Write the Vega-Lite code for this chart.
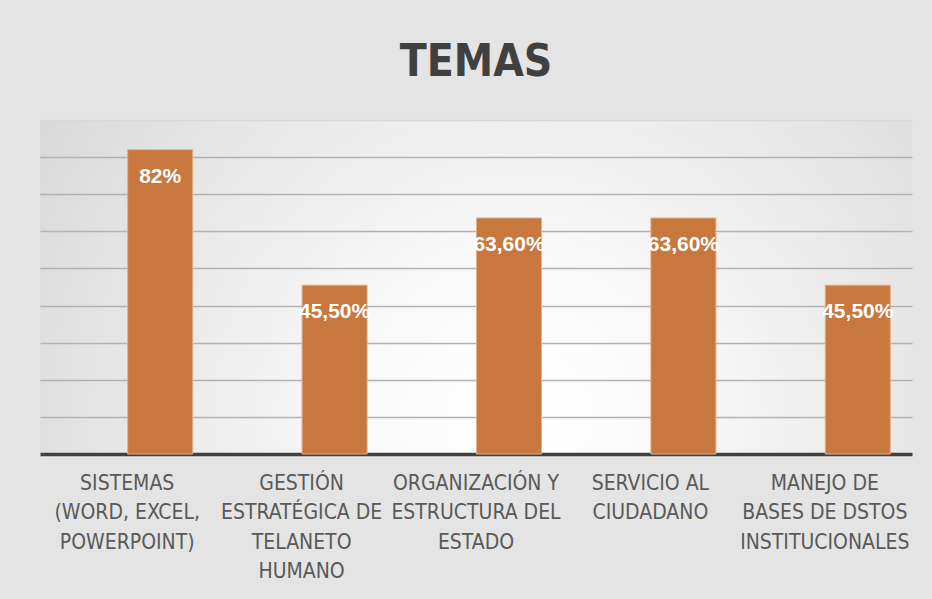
{
  "$schema": "https://vega.github.io/schema/vega-lite/v6.json",
  "width": 872,
  "height": 334,
  "autosize": {"type": "none"},
  "padding": {"left": 40, "top": 120, "right": 20, "bottom": 145},
  "background": "#E4E4E4",
  "title": {
    "text": "TEMAS",
    "font": "Liberation Sans Narrow, DejaVu Sans Condensed, sans-serif",
    "fontSize": 44,
    "fontWeight": "bold",
    "color": "#404040",
    "anchor": "middle",
    "baseline": "alphabetic",
    "offset": 0
  },
  "config": {
    "view": {
      "stroke": null,
      "fill": {
        "gradient": "radial",
        "x1": 0.55, "y1": 0.65, "r1": 0,
        "x2": 0.55, "y2": 0.65, "r2": 0.75,
        "stops": [
          {"offset": 0, "color": "#FFFFFF"},
          {"offset": 0.25, "color": "#F9F9F9"},
          {"offset": 1, "color": "#D2D2D2"}
        ]
      }
    }
  },
  "data": {
    "values": [
      {"tema": "SISTEMAS|(WORD, EXCEL,|POWERPOINT)", "porcentaje": 82, "etiqueta": "82%"},
      {"tema": "GESTIÓN|ESTRATÉGICA DE|TELANETO|HUMANO", "porcentaje": 45.5, "etiqueta": "45,50%"},
      {"tema": "ORGANIZACIÓN Y|ESTRUCTURA DEL|ESTADO", "porcentaje": 63.6, "etiqueta": "63,60%"},
      {"tema": "SERVICIO AL|CIUDADANO", "porcentaje": 63.6, "etiqueta": "63,60%"},
      {"tema": "MANEJO DE|BASES DE DSTOS|INSTITUCIONALES", "porcentaje": 45.5, "etiqueta": "45,50%"}
    ]
  },
  "encoding": {
    "x": {
      "field": "tema",
      "type": "nominal",
      "sort": null,
      "scale": {"paddingInner": 0.627, "paddingOuter": 0.3135},
      "axis": {
        "title": null,
        "labelAngle": 0,
        "labelExpr": "split(datum.label, '|')",
        "labelFont": "Liberation Sans Narrow, DejaVu Sans Condensed, sans-serif",
        "labelFontSize": 21,
        "labelColor": "#595959",
        "labelLineHeight": 29.5,
        "labelBaseline": "top",
        "labelPadding": 18,
        "labelLimit": 0,
        "ticks": false,
        "domainColor": "#404040",
        "domainWidth": 3.5,
        "grid": false
      }
    },
    "y": {
      "field": "porcentaje",
      "type": "quantitative",
      "scale": {"domain": [0, 90], "nice": false},
      "axis": {
        "title": null,
        "labels": false,
        "ticks": false,
        "domain": false,
        "values": [10, 20, 30, 40, 50, 60, 70, 80, 90],
        "gridColor": {"condition": {"test": "datum.value == 90", "value": "#D8D8D8"}, "value": "#B2B2B2"},
        "gridWidth": 1.5
      }
    }
  },
  "layer": [
    {
      "mark": {
        "type": "bar",
        "color": "#C8783F",
        "stroke": "#E6AF8A",
        "strokeWidth": 1,
        "xOffset": 33
      }
    },
    {
      "mark": {
        "type": "text",
        "color": "#FFFFFF",
        "font": "Liberation Sans, Arial, sans-serif",
        "fontSize": 21,
        "fontWeight": "bold",
        "baseline": "top",
        "align": "center",
        "dy": 16,
        "xOffset": 33
      },
      "encoding": {
        "text": {"field": "etiqueta"}
      }
    }
  ]
}
